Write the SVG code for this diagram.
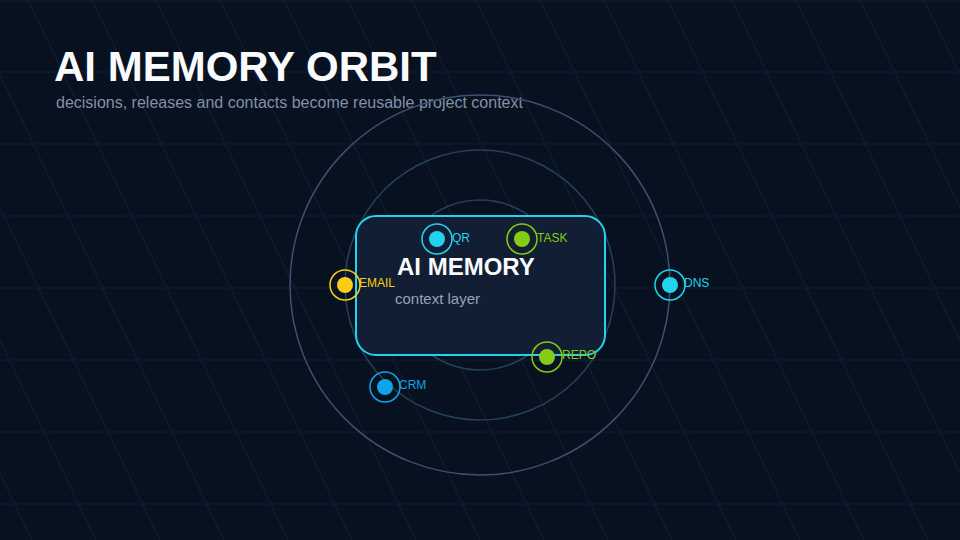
<svg xmlns="http://www.w3.org/2000/svg" width="960" height="540" viewBox="0 0 960 540">
<style>
.h{stroke:#11213a;stroke-width:1}
.d{stroke:#13223a;stroke-width:1}
.orb{fill:none;stroke-width:1.5}
.lbl{font-family:"Liberation Sans",Arial,sans-serif;font-size:12px}
</style>
<rect width="960" height="540" fill="#07111f"/>
<g id="grid">
<line class="d" x1="-228" y1="0" x2="32" y2="540"/>
<line class="d" x1="-164" y1="0" x2="96" y2="540"/>
<line class="d" x1="-100" y1="0" x2="160" y2="540"/>
<line class="d" x1="-36" y1="0" x2="224" y2="540"/>
<line class="d" x1="28" y1="0" x2="288" y2="540"/>
<line class="d" x1="92" y1="0" x2="352" y2="540"/>
<line class="d" x1="156" y1="0" x2="416" y2="540"/>
<line class="d" x1="220" y1="0" x2="480" y2="540"/>
<line class="d" x1="284" y1="0" x2="544" y2="540"/>
<line class="d" x1="348" y1="0" x2="608" y2="540"/>
<line class="d" x1="412" y1="0" x2="672" y2="540"/>
<line class="d" x1="476" y1="0" x2="736" y2="540"/>
<line class="d" x1="540" y1="0" x2="800" y2="540"/>
<line class="d" x1="604" y1="0" x2="864" y2="540"/>
<line class="d" x1="668" y1="0" x2="928" y2="540"/>
<line class="d" x1="732" y1="0" x2="992" y2="540"/>
<line class="d" x1="796" y1="0" x2="1056" y2="540"/>
<line class="d" x1="860" y1="0" x2="1120" y2="540"/>
<line class="d" x1="924" y1="0" x2="1184" y2="540"/>
<line class="h" x1="0" y1="1" x2="960" y2="1"/>
<line class="h" x1="0" y1="72" x2="960" y2="72"/>
<line class="h" x1="0" y1="144" x2="960" y2="144"/>
<line class="h" x1="0" y1="216" x2="960" y2="216"/>
<line class="h" x1="0" y1="288" x2="960" y2="288"/>
<line class="h" x1="0" y1="360" x2="960" y2="360"/>
<line class="h" x1="0" y1="432" x2="960" y2="432"/>
<line class="h" x1="0" y1="504" x2="960" y2="504"/>
</g>
<text x="54" y="81" font-family="Liberation Sans,Arial,sans-serif" font-size="42" font-weight="bold" fill="#f8fafc">AI MEMORY ORBIT</text>
<text x="56" y="108" font-family="Liberation Sans,Arial,sans-serif" font-size="16" fill="#8291a8">decisions, releases and contacts become reusable project context</text>
<g id="orbits">
<circle class="orb" cx="480" cy="285" r="190" stroke="#3a5270"/>
<circle class="orb" cx="480" cy="285" r="135" stroke="#24435a"/>
<circle class="orb" cx="480" cy="285" r="85" stroke="#24435a"/>
</g>
<g id="core">
<rect x="356" y="216" width="249" height="139" rx="20" fill="#111e33" stroke="#22d3ee" stroke-width="2"/>
<text x="397" y="275" font-family="Liberation Sans,Arial,sans-serif" font-size="24" font-weight="bold" fill="#f8fafc">AI MEMORY</text>
<text x="395" y="304" font-family="Liberation Sans,Arial,sans-serif" font-size="15" fill="#94a3b8">context layer</text>
</g>
<g id="node-qr"><circle cx="437" cy="239" r="15" fill="none" stroke="#22d3ee" stroke-width="1.5"/><circle cx="437" cy="239" r="8" fill="#22d3ee"/><text class="lbl" x="452" y="242" fill="#22d3ee">QR</text></g>
<g id="node-task"><circle cx="522" cy="239" r="15" fill="none" stroke="#84cc16" stroke-width="1.5"/><circle cx="522" cy="239" r="8" fill="#84cc16"/><text class="lbl" x="537" y="242" fill="#84cc16">TASK</text></g>
<g id="node-email"><circle cx="345" cy="285" r="15" fill="none" stroke="#facc15" stroke-width="1.5"/><circle cx="345" cy="285" r="8" fill="#facc15"/><text class="lbl" x="359" y="287" fill="#facc15">EMAIL</text></g>
<g id="node-dns"><circle cx="670" cy="285" r="15" fill="none" stroke="#22d3ee" stroke-width="1.5"/><circle cx="670" cy="285" r="8" fill="#22d3ee"/><text class="lbl" x="684" y="287" fill="#22d3ee">DNS</text></g>
<g id="node-repo"><circle cx="547" cy="357" r="15" fill="none" stroke="#84cc16" stroke-width="1.5"/><circle cx="547" cy="357" r="8" fill="#84cc16"/><text class="lbl" x="562" y="359" fill="#84cc16">REPO</text></g>
<g id="node-crm"><circle cx="385" cy="387" r="15" fill="none" stroke="#0ea5e9" stroke-width="1.5"/><circle cx="385" cy="387" r="8" fill="#0ea5e9"/><text class="lbl" x="399" y="389" fill="#0ea5e9">CRM</text></g>
<g id="connectors"></g>
</svg>
